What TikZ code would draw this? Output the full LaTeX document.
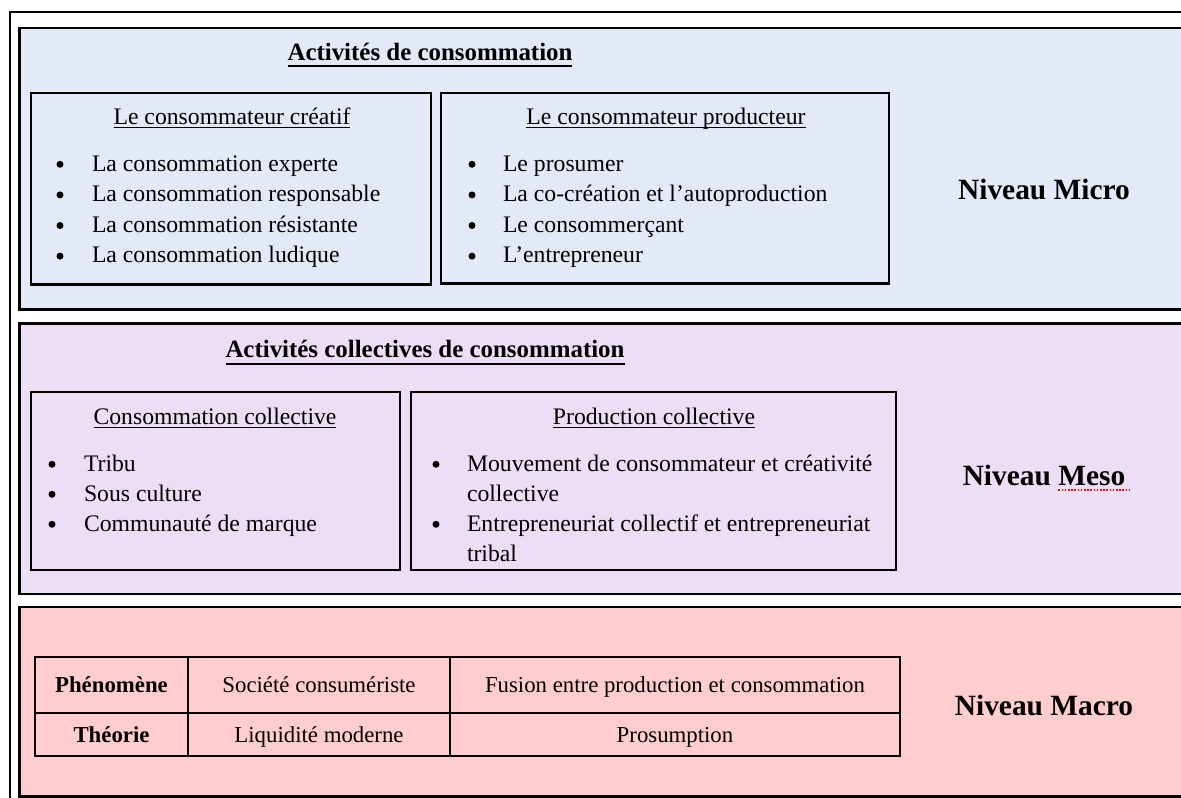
\documentclass[tikz,border=0pt]{standalone}
\usepackage{fontspec}
\setmainfont{Liberation Serif}
\definecolor{microbg}{RGB}{227,233,246}
\definecolor{mesobg}{RGB}{236,222,244}
\definecolor{macrobg}{RGB}{255,205,205}
\newcommand\bodyfnt{\fontsize{23.7}{30}\selectfont}
\newcommand\titlefnt{\fontsize{24.9}{30}\selectfont\bfseries}
\newcommand\nivfnt{\fontsize{29.4}{35}\selectfont\bfseries}
\newcommand\tabfnt{\fontsize{22.8}{26}\selectfont}
\newlength\mesow
\tikzset{
  panel/.style={draw=black, line width=2.2pt},
  boxx/.style={draw=black, line width=2.2pt},
  txt/.style={anchor=base west, inner sep=0pt, outer sep=0pt, font=\bodyfnt},
  ctxt/.style={anchor=base, inner sep=0pt, outer sep=0pt, font=\bodyfnt},
  bul/.style={circle, fill=black, inner sep=0pt, outer sep=0pt, minimum size=7pt},
  ttl/.style={anchor=base, inner sep=0pt, outer sep=0pt, font=\titlefnt},
  niv/.style={anchor=base, inner sep=0pt, outer sep=0pt, font=\nivfnt},
  cell/.style={draw=black, line width=1.8pt, rectangle, inner sep=0pt, outer sep=0pt, font=\tabfnt},
  ul/.style={line width=1.3pt},
  ulb/.style={line width=2pt}
}
\begin{document}
\settowidth{\mesow}{\nivfnt Meso}%
\begin{tikzpicture}[x=1pt,y=-1pt]
\clip (0,0) rectangle (1181,798);
\fill[white] (0,0) rectangle (1181,798);
% outer frame
\draw[panel] (10,12) rectangle (1220,830);
% panels
\draw[panel, fill=microbg] (19.5,28) rectangle (1210,309.5);
\draw[panel, fill=mesobg] (19.5,323.5) rectangle (1210,594);
\draw[panel, fill=macrobg] (19.5,607) rectangle (1210,796.5);

% ---------- Micro ----------
\node[ttl] (t1) at (430,60) {Activités de consommation};
\draw[ulb] ([yshift=-6pt]t1.base west) -- ([yshift=-6pt]t1.base east);

\draw[boxx] (31,93) rectangle (431,284.5);
\node[ctxt] (h1) at (232,124) {Le consommateur créatif};
\draw[ul] ([yshift=-3.5pt]h1.base west) -- ([yshift=-3.5pt]h1.base east);
\foreach \i/\t [count=\k] in {0/La consommation experte,1/La consommation responsable,2/La consommation résistante,3/La consommation ludique}{
  \node[bul] (b1\k) at (60,164.3+30.6*\i) {};
  \node[txt] (l1\k) at (92,171+30.6*\i) {\t};
}

\draw[boxx] (441,93) rectangle (889,283.5);
\node[ctxt] (h2) at (666,124) {Le consommateur producteur};
\draw[ul] ([yshift=-3.5pt]h2.base west) -- ([yshift=-3.5pt]h2.base east);
\foreach \i/\t [count=\k] in {0/Le prosumer,1/La co-création et l’autoproduction,2/Le consommerçant,3/L’entrepreneur}{
  \node[bul] (b2\k) at (472,164.3+30.6*\i) {};
  \node[txt] (l2\k) at (503,171+30.6*\i) {\t};
}

\node[niv] (nmicro) at (1044,199.5) {Niveau Micro};

% ---------- Meso ----------
\node[ttl] (t2) at (425,357.5) {Activités collectives de consommation};
\draw[ulb] ([yshift=-6pt]t2.base west) -- ([yshift=-6pt]t2.base east);

\draw[boxx] (31,392) rectangle (400,570);
\node[ctxt] (h3) at (215,424) {Consommation collective};
\draw[ul] ([yshift=-3.5pt]h3.base west) -- ([yshift=-3.5pt]h3.base east);
\foreach \i/\t [count=\k] in {0/Tribu,1/Sous culture,2/Communauté de marque}{
  \node[bul] (b3\k) at (52,464.3+30*\i) {};
  \node[txt] (l3\k) at (84,471+30*\i) {\t};
}

\draw[boxx] (411,392) rectangle (896,570);
\node[ctxt] (h4) at (654,424) {Production collective};
\draw[ul] ([yshift=-3.5pt]h4.base west) -- ([yshift=-3.5pt]h4.base east);
\node[bul] (b41) at (436,464.3) {};
\node[txt] (l41) at (467,471) {Mouvement de consommateur et créativité};
\node[txt] (l42) at (467,501) {collective};
\node[bul] (b42) at (436,524.3) {};
\node[txt] (l43) at (467,531) {Entrepreneuriat collectif et entrepreneuriat};
\node[txt] (l44) at (467,561) {tribal};

\node[niv] (nmeso) at (1044,485.5) {Niveau Meso};
\coordinate (sqA) at ([xshift=-\mesow, yshift=-4.5pt]nmeso.base east);
\coordinate (sqB) at ([xshift=4pt, yshift=-4.5pt]nmeso.base east);
\draw[red, line width=1.3pt, dash pattern=on 1.6pt off 1.6pt] (sqA) -- (sqB);

% ---------- Macro ----------
\node[cell, minimum width=153pt, minimum height=56pt] (c11) at (111.5,685) {};
\node[cell, minimum width=262pt, minimum height=56pt] (c12) at (319,685) {};
\node[cell, minimum width=450pt, minimum height=56pt] (c13) at (675,685) {};
\node[cell, minimum width=153pt, minimum height=43pt] (c21) at (111.5,734.5) {};
\node[cell, minimum width=262pt, minimum height=43pt] (c22) at (319,734.5) {};
\node[cell, minimum width=450pt, minimum height=43pt] (c23) at (675,734.5) {};
\node[anchor=base, inner sep=0pt, font=\tabfnt\bfseries] (p1) at (111.5,692.5) {Phénomène};
\node[anchor=base, inner sep=0pt, font=\tabfnt] (p2) at (319,692.5) {Société consumériste};
\node[anchor=base, inner sep=0pt, font=\tabfnt] (p3) at (675,692.5) {Fusion entre production et consommation};
\node[anchor=base, inner sep=0pt, font=\tabfnt\bfseries] (q1) at (111.5,742) {Théorie};
\node[anchor=base, inner sep=0pt, font=\tabfnt] (q2) at (319,742) {Liquidité moderne};
\node[anchor=base, inner sep=0pt, font=\tabfnt] (q3) at (675,742) {Prosumption};

\node[niv] (nmacro) at (1044,715) {Niveau Macro};
\end{tikzpicture}
\end{document}
